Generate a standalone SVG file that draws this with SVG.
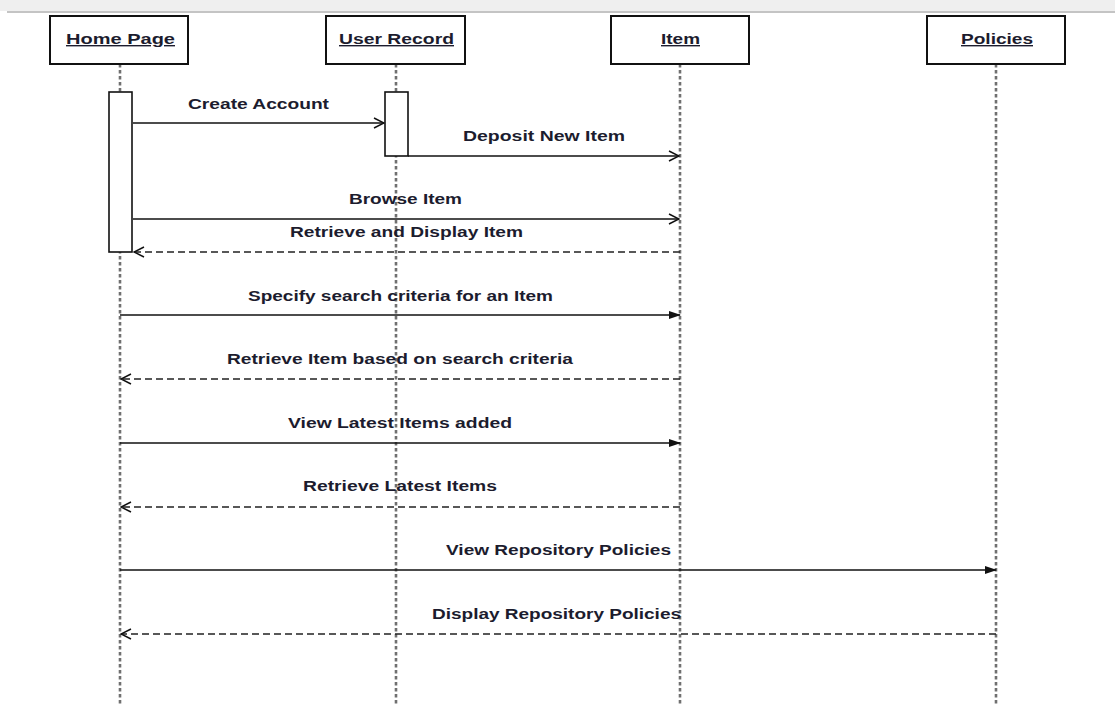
<svg xmlns="http://www.w3.org/2000/svg" width="1115" height="705" viewBox="0 0 1115 705">
  <style>
    .band { fill: #efefef; }
    .bandline { stroke: #c4c4c4; stroke-width: 2; }
    .head { fill: #ffffff; stroke: #111111; stroke-width: 2; }
    .headtxt { font-family: "Liberation Sans", Arial, sans-serif; font-size: 14px; font-weight: bold; fill: #1c1c2e; text-decoration: underline; }
    .life { stroke: #707070; stroke-width: 2.6; stroke-dasharray: 3.5 2.5; fill: none; }
    .act { fill: #ffffff; stroke: #111111; stroke-width: 1.6; }
    .msg { stroke: #111111; stroke-width: 1.5; fill: none; }
    .ret { stroke: #222222; stroke-width: 1.5; stroke-dasharray: 7 4; fill: none; }
    .lbl { font-family: "Liberation Sans", Arial, sans-serif; font-size: 14px; font-weight: bold; fill: #1c1c2e; }
  </style>
  <defs>
    <marker id="open" viewBox="0 0 12 12" refX="11" refY="6" markerWidth="12" markerHeight="12" markerUnits="userSpaceOnUse" orient="auto">
      <path d="M1,1 L11,6 L1,11" fill="none" stroke="#111111" stroke-width="1.5"/>
    </marker>
    <marker id="solid" viewBox="0 0 12 10" refX="11" refY="5" markerWidth="12" markerHeight="10" markerUnits="userSpaceOnUse" orient="auto">
      <path d="M0,1 L12,5 L0,9 Z" fill="#111111"/>
    </marker>
  </defs>

  <!-- window strip at the top -->
  <rect class="band" x="0" y="0" width="1115" height="11"/>
  <line class="bandline" x1="7" y1="12" x2="1115" y2="12"/>

  <!-- lifelines -->
  <g id="lifelines">
    <line class="life" x1="120" y1="64" x2="120" y2="705"/>
    <line class="life" x1="396" y1="64" x2="396" y2="705"/>
    <line class="life" x1="680" y1="64" x2="680" y2="705"/>
    <line class="life" x1="996" y1="64" x2="996" y2="705"/>
  </g>

  <g id="home-page">
    <rect class="head" x="50" y="16" width="138" height="48"/>
    <text class="headtxt" x="66" y="44" textLength="109" lengthAdjust="spacingAndGlyphs">Home Page</text>
    <rect class="act" x="109" y="92" width="23" height="160"/>
  </g>

  <g id="user-record">
    <rect class="head" x="326" y="16" width="139" height="48"/>
    <text class="headtxt" x="339" y="44" textLength="115" lengthAdjust="spacingAndGlyphs">User Record</text>
    <rect class="act" x="385" y="92" width="23" height="64"/>
  </g>

  <g id="item">
    <rect class="head" x="611" y="16" width="138" height="48"/>
    <text class="headtxt" x="661" y="44" textLength="39" lengthAdjust="spacingAndGlyphs">Item</text>
  </g>

  <g id="policies">
    <rect class="head" x="927" y="16" width="138" height="48"/>
    <text class="headtxt" x="961" y="44" textLength="72" lengthAdjust="spacingAndGlyphs">Policies</text>
  </g>

  <!-- messages -->
  <g id="connectors">
    <line class="msg" x1="133" y1="123" x2="384" y2="123" marker-end="url(#open)"/>
    <text class="lbl" x="188" y="109" textLength="141" lengthAdjust="spacingAndGlyphs">Create Account</text>

    <line class="msg" x1="408" y1="156" x2="679" y2="156" marker-end="url(#open)"/>
    <text class="lbl" x="463" y="141" textLength="162" lengthAdjust="spacingAndGlyphs">Deposit New Item</text>

    <line class="msg" x1="133" y1="219" x2="679" y2="219" marker-end="url(#open)"/>
    <text class="lbl" x="349" y="204" textLength="113" lengthAdjust="spacingAndGlyphs">Browse Item</text>

    <line class="ret" x1="680" y1="252" x2="134" y2="252" marker-end="url(#open)"/>
    <text class="lbl" x="290" y="237" textLength="233" lengthAdjust="spacingAndGlyphs">Retrieve and Display Item</text>

    <line class="msg" x1="120" y1="315" x2="680" y2="315" marker-end="url(#solid)"/>
    <text class="lbl" x="248" y="301" textLength="305" lengthAdjust="spacingAndGlyphs">Specify search criteria for an Item</text>

    <line class="ret" x1="680" y1="379" x2="121" y2="379" marker-end="url(#open)"/>
    <text class="lbl" x="227" y="364" textLength="346" lengthAdjust="spacingAndGlyphs">Retrieve Item based on search criteria</text>

    <line class="msg" x1="120" y1="443" x2="680" y2="443" marker-end="url(#solid)"/>
    <text class="lbl" x="288" y="428" textLength="224" lengthAdjust="spacingAndGlyphs">View Latest Items added</text>

    <line class="ret" x1="680" y1="507" x2="121" y2="507" marker-end="url(#open)"/>
    <text class="lbl" x="303" y="491" textLength="194" lengthAdjust="spacingAndGlyphs">Retrieve Latest Items</text>

    <line class="msg" x1="120" y1="570" x2="996" y2="570" marker-end="url(#solid)"/>
    <text class="lbl" x="446" y="555" textLength="225" lengthAdjust="spacingAndGlyphs">View Repository Policies</text>

    <line class="ret" x1="996" y1="634" x2="121" y2="634" marker-end="url(#open)"/>
    <text class="lbl" x="432" y="619" textLength="249" lengthAdjust="spacingAndGlyphs">Display Repository Policies</text>
  </g>
</svg>
